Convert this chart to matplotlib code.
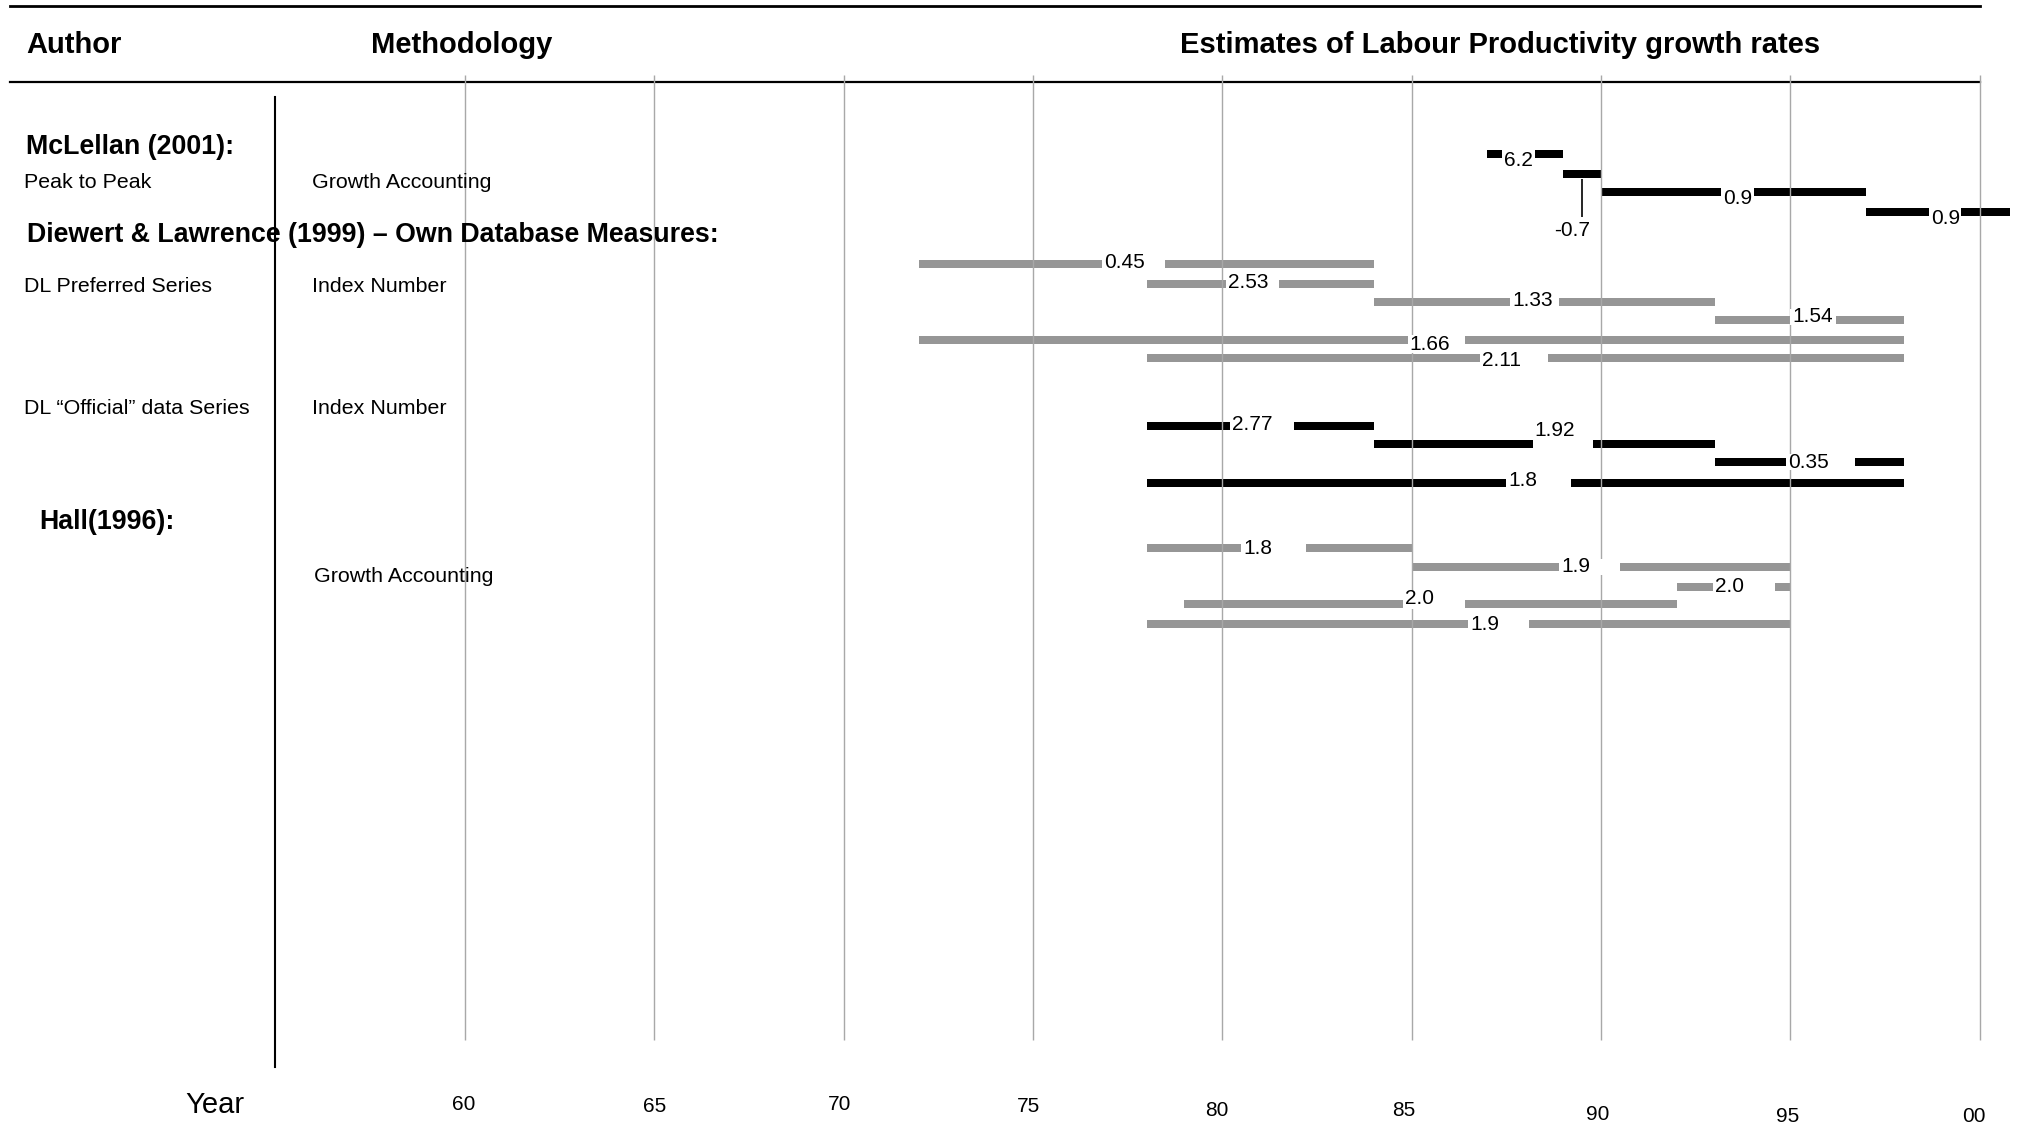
import matplotlib
matplotlib.use("Agg")
import matplotlib.pyplot as plt
from matplotlib.transforms import blended_transform_factory

# growth-rate estimates: start year, end year, rate (% p.a.)
MCLELLAN_START = [87, 89, 90, 97]
MCLELLAN_END = [89, 90, 97, 100.8]
MCLELLAN_RATE = [6.2, -0.7, 0.9, 0.9]

DL_PREF_START = [72, 78, 84, 93, 72, 78]
DL_PREF_END = [84, 84, 93, 98, 98, 98]
DL_PREF_RATE = [0.45, 2.53, 1.33, 1.54, 1.66, 2.11]

DL_OFF_START = [78, 84, 93, 78]
DL_OFF_END = [84, 93, 98, 98]
DL_OFF_RATE = [2.77, 1.92, 0.35, 1.8]

HALL_START = [78, 85, 92, 79, 78]
HALL_END = [85, 95, 95, 92, 95]
HALL_RATE = [1.8, 1.9, 2.0, 2.0, 1.9]

YEAR_TICKS = [60, 65, 70, 75, 80, 85, 90, 95, 100]
YEAR_LABELS = ["60", "65", "70", "75", "80", "85", "90", "95", "00"]

# ---- layout (canvas pixels, y from top) ----
W, H = 2022, 1126
X_LEFT, X_RIGHT = 47.72, 101.12      # years at the canvas edges
GREY = "#969696"
BAR_H = 7.5

MCL_ROWS = [154, 174, 192, 212]
MCL_GAPS = [(87.38, 88.25, 161), None, (93.17, 94.04, 198), (98.67, 99.5, 219)]
PREF_ROWS = [264, 284, 302, 320, 340, 358]
PREF_GAPS = [(76.82, 78.48, 263), (80.1, 81.5, 283), (87.6, 88.9, 301),
             (95.0, 96.2, 317), (84.9, 86.4, 345), (86.8, 88.6, 360)]
OFF_ROWS = [426, 444, 462, 483]
OFF_GAPS = [(80.2, 81.9, 425), (88.2, 89.8, 431), (94.9, 96.7, 462), (87.5, 89.2, 480)]
HALL_ROWS = [548, 567, 587, 604, 624]
HALL_GAPS = [(80.5, 82.2, 548), (88.9, 90.5, 567), (92.96, 94.6, 586),
             (84.77, 86.4, 599), (86.5, 88.1, 625)]
TICK_Y = [1105, 1106, 1105, 1106, 1110, 1110, 1115, 1117, 1117]
TICK_DX = [-0.04, 0.02, -0.12, -0.13, -0.15, -0.22, -0.08, -0.07, -0.15]

plt.rcParams["font.family"] = ["Liberation Sans", "DejaVu Sans"]


def draw_group(ax, starts, ends, rates, rows, gaps, color):
    widths = [e - s for s, e in zip(starts, ends)]
    ax.barh(rows, widths, left=starts, height=BAR_H, color=color, zorder=1)
    for y, rate, gap in zip(rows, rates, gaps):
        if gap is None:
            continue
        g0, g1, ly = gap
        lo = min(y - BAR_H / 2 - 1, ly - 8)
        hi = max(y + BAR_H / 2 + 1, ly + 8)
        ax.barh((lo + hi) / 2, g1 - g0, left=g0, height=hi - lo,
                color="white", zorder=3)
        ax.text(g0 + 0.05, ly, str(rate), ha="left", va="center",
                fontsize=15, zorder=4)


fig = plt.figure(figsize=(W / 100, H / 100), dpi=100)
ax = fig.add_axes([0, 0, 1, 1])
ax.set_xlim(X_LEFT, X_RIGHT)
ax.set_ylim(H, 0)
ax.axis("off")
bt = blended_transform_factory(ax.transAxes, ax.transData)


def px(x):
    return x / W


# frame lines
ax.plot([px(10), px(1980)], [6, 6], color="black", lw=2, transform=bt)
ax.plot([px(10), px(1980)], [82, 82], color="black", lw=1.6, transform=bt)
ax.plot([px(275), px(275)], [97, 1067], color="black", lw=1.5, transform=bt)

# year gridlines
ax.vlines(YEAR_TICKS, 75, 1040, color="#a8a8a8", lw=1.0, zorder=2)
for t, lab, y, dx in zip(YEAR_TICKS, YEAR_LABELS, TICK_Y, TICK_DX):
    ax.text(t + dx, y, lab, ha="center", va="center", fontsize=15)
ax.text(px(185), 1105, "Year", ha="left", va="center", fontsize=21, transform=bt)

# headers
ax.text(px(26), 45, "Author", ha="left", va="center", fontsize=21,
        fontweight="bold", transform=bt)
ax.text(px(371), 45, "Methodology", ha="left", va="center", fontsize=21,
        fontweight="bold", transform=bt)
ax.text(px(1500), 45, "Estimates of Labour Productivity growth rates",
        ha="center", va="center", fontsize=21, fontweight="bold", transform=bt)

# row captions
bold = dict(ha="left", va="center", fontsize=19.3, fontweight="bold", transform=bt)
norm = dict(ha="left", va="center", fontsize=15.4, transform=bt)
ax.text(px(26), 147, "McLellan (2001):", **bold)
ax.text(px(24), 183, "Peak to Peak", **norm)
ax.text(px(312), 183, "Growth Accounting", **norm)
ax.text(px(27), 235, "Diewert & Lawrence (1999) \u2013 Own Database Measures:", **bold)
ax.text(px(24), 287, "DL Preferred Series", **norm)
ax.text(px(312), 287, "Index Number", **norm)
ax.text(px(24), 408, "DL \u201cOfficial\u201d data Series", **norm)
ax.text(px(312), 408, "Index Number", **norm)
ax.text(px(39), 522, "Hall(1996):", **bold)
ax.text(px(314), 577, "Growth Accounting", **norm)

# estimate bars
draw_group(ax, MCLELLAN_START, MCLELLAN_END, MCLELLAN_RATE, MCL_ROWS, MCL_GAPS, "black")
draw_group(ax, DL_PREF_START, DL_PREF_END, DL_PREF_RATE, PREF_ROWS, PREF_GAPS, GREY)
draw_group(ax, DL_OFF_START, DL_OFF_END, DL_OFF_RATE, OFF_ROWS, OFF_GAPS, "black")
draw_group(ax, HALL_START, HALL_END, HALL_RATE, HALL_ROWS, HALL_GAPS, GREY)

# the negative McLellan sub-period is labelled below its bar
mid = (MCLELLAN_START[1] + MCLELLAN_END[1]) / 2
ax.vlines(mid, 179, 217, color="black", lw=1.2, zorder=4)
ax.text(mid - 0.25, 231, str(MCLELLAN_RATE[1]), ha="center", va="center",
        fontsize=15, zorder=4)

fig.savefig("out.png", dpi=100, facecolor="white")
